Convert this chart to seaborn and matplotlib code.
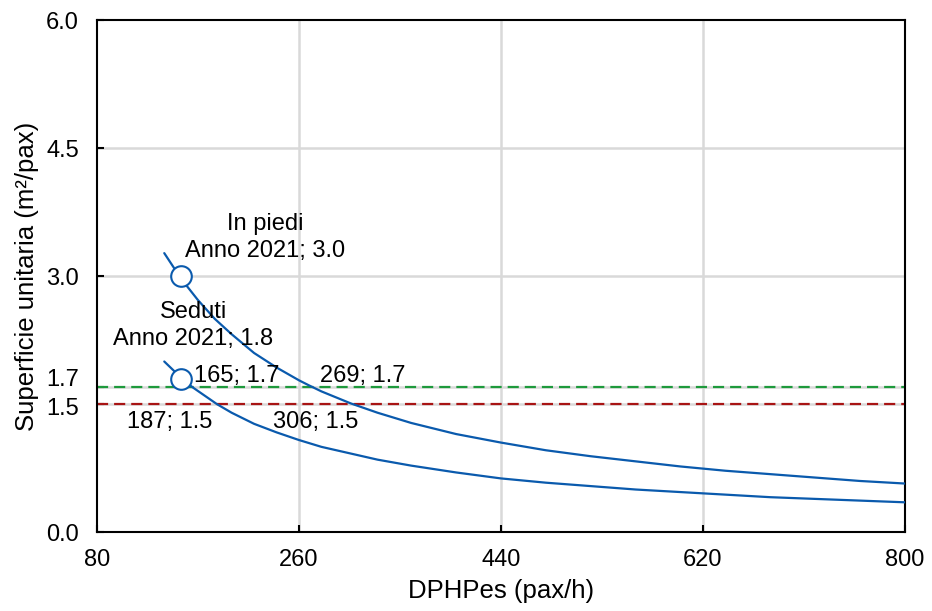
import matplotlib
matplotlib.use("Agg")
import matplotlib.pyplot as plt
import matplotlib.transforms as mtransforms
import seaborn as sns
import pandas as pd

# ---- data ----
x_piedi = [140, 155, 170, 185, 200, 220, 240, 260, 269, 280, 306, 330, 360, 400,
           440, 480, 520, 560, 600, 640, 680, 720, 760, 800]
y_piedi = [3.27, 2.97, 2.72, 2.50, 2.32, 2.10, 1.93, 1.78, 1.72, 1.65, 1.51, 1.40,
           1.28, 1.15, 1.05, 0.96, 0.89, 0.83, 0.77, 0.72, 0.68, 0.64, 0.60, 0.57]
x_seduti = [140, 155, 165, 187, 200, 220, 240, 260, 280, 300, 330, 360, 400, 440,
            480, 520, 560, 600, 640, 680, 720, 760, 800]
y_seduti = [2.00, 1.81, 1.70, 1.50, 1.40, 1.27, 1.17, 1.08, 1.00, 0.94, 0.85, 0.78,
            0.70, 0.63, 0.58, 0.54, 0.50, 0.47, 0.44, 0.41, 0.39, 0.37, 0.35]
anno_x = [155, 155]
anno_y = [3.0, 1.8]
soglie = [1.7, 1.5]
soglie_colori = ["#1e9a3c", "#a81414"]
x_ticks = [80, 260, 440, 620, 800]
y_ticks = [0.0, 1.5, 1.7, 3.0, 4.5, 6.0]

df = pd.concat([
    pd.DataFrame({"x": x_piedi, "y": y_piedi, "serie": "In piedi"}),
    pd.DataFrame({"x": x_seduti, "y": y_seduti, "serie": "Seduti"}),
])

sns.set_theme(style="white")
plt.rcParams["font.family"] = ["Liberation Sans", "DejaVu Sans"]
plt.rcParams["text.color"] = "black"

fig = plt.figure(figsize=(9.32, 6.11), dpi=100)
ax = fig.add_axes([0.104, 0.129, 0.867, 0.838])

blue = "#0a5aad"
# gridlines
for xv in x_ticks[1:-1]:
    ax.axvline(xv, color="#d9d9d9", lw=1.8, zorder=0)
for yv in [1.5, 1.7, 3.0, 4.5]:
    ax.axhline(yv, color="#d9d9d9", lw=1.8, zorder=0)

sns.lineplot(data=df, x="x", y="y", units="serie", estimator=None, sort=False,
             color=blue, lw=1.6, ax=ax, legend=False, zorder=3)

for yv, c in zip(soglie, soglie_colori):
    ax.axhline(yv, color=c, lw=1.6, ls=(0, (5, 2.7)), zorder=2)

sns.scatterplot(x=anno_x, y=anno_y, s=220, facecolor="white", edgecolor=blue,
                linewidth=1.5, ax=ax, zorder=4, legend=False)

fs = 17
kw = dict(fontsize=fs, va="baseline", color="black")
ax.text(229.7, 3.539, "In piedi", ha="center", **kw)
ax.text(229.7, 3.223, "Anno 2021; 3.0", ha="center", **kw)
ax.text(166, 2.508, "Seduti", ha="center", **kw)
ax.text(166, 2.191, "Anno 2021; 1.8", ha="center", **kw)
ax.text(166.4, 1.758, "165; 1.7", ha="left", **kw)
ax.text(278.7, 1.758, "269; 1.7", ha="left", **kw)
ax.text(106.7, 1.219, "187; 1.5", ha="left", **kw)
ax.text(236.8, 1.219, "306; 1.5", ha="left", **kw)

ax.set_xlim(80, 800)
ax.set_ylim(0, 6)
ax.set_xticks(x_ticks)
ax.set_xticklabels([str(v) for v in x_ticks])
ax.set_yticks(y_ticks)
ax.set_yticklabels([f"{v:.1f}" for v in y_ticks])
ax.tick_params(axis="both", direction="in", length=5, width=1.5, labelsize=17,
               colors="black", bottom=True, left=True)
ax.tick_params(axis="x", pad=12)
ax.tick_params(axis="y", pad=13)
ax.set_xlabel("DPHPes (pax/h)", fontsize=18.5, labelpad=6, color="black")
ax.set_ylabel("Superficie unitaria (m²/pax)", fontsize=18.5, labelpad=5,
              color="black")
for s in ax.spines.values():
    s.set_color("black")
    s.set_linewidth(1.5)
    s.set_visible(True)

# nudge the crowded 1.7 / 1.5 tick labels apart, as in the reference
for lab in ax.get_yticklabels():
    t = lab.get_text()
    if t == "1.7":
        lab.set_transform(lab.get_transform() +
                          mtransforms.ScaledTranslation(0, 10 / 100, fig.dpi_scale_trans))
    elif t == "1.5":
        lab.set_transform(lab.get_transform() +
                          mtransforms.ScaledTranslation(0, -2 / 100, fig.dpi_scale_trans))

fig.savefig("out.png", dpi=100)
